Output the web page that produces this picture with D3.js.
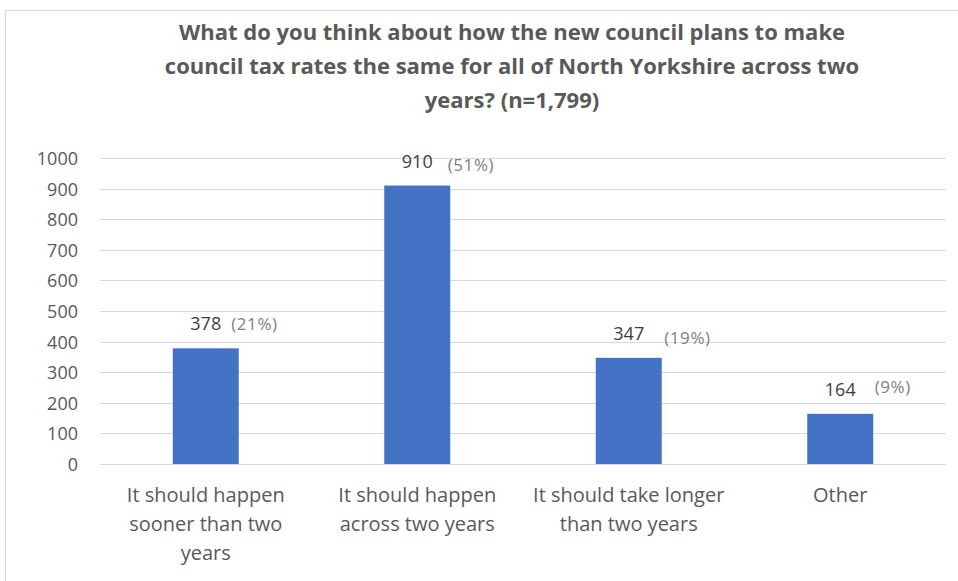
<!DOCTYPE html>
<html>
<head>
<meta charset="utf-8">
<script src="https://cdn.jsdelivr.net/npm/d3@7"></script>
<style>
  html, body { margin: 0; padding: 0; background: #ffffff; }
  svg { display: block; }
  text { font-family: "Open Sans", "Noto Sans", sans-serif; }
</style>
</head>
<body>
<svg id="chart" width="958" height="581"></svg>
<script>
// Survey responses (n = 1,799)
const titleLines = [
  "What do you think about how the new council plans to make",
  "council tax rates the same for all of North Yorkshire across two",
  "years? (n=1,799)"
];
const categories = [
  "It should happen\nsooner than two\nyears",
  "It should happen\nacross two years",
  "It should take longer\nthan two years",
  "Other"
];
const counts = [378, 910, 347, 164];
const percentLabels = ["(21%)", "(51%)", "(19%)", "(9%)"];
const yTicks = [0, 100, 200, 300, 400, 500, 600, 700, 800, 900, 1000];

const W = 958, H = 581;
const svg = d3.select("#chart");

// outer chart frame
svg.append("rect")
  .attr("x", 5.5).attr("y", 10.5)
  .attr("width", W + 10).attr("height", H + 10)
  .attr("fill", "#ffffff")
  .attr("stroke", "#d9d9d9").attr("stroke-width", 1);

const plot = { left: 100, right: 946, top: 158, bottom: 464 };

const x = d3.scaleBand()
  .domain(categories)
  .range([plot.left, plot.right])
  .paddingInner(0.688)
  .paddingOuter(0.344);

const y = d3.scaleLinear()
  .domain([0, 1000])
  .range([plot.bottom, plot.top]);

// gridlines
svg.append("g")
  .selectAll("line")
  .data(yTicks)
  .join("line")
  .attr("x1", plot.left).attr("x2", plot.right)
  .attr("y1", d => Math.round(y(d)) + 0.5)
  .attr("y2", d => Math.round(y(d)) + 0.5)
  .attr("stroke", "#d9d9d9").attr("stroke-width", 1);

// y axis labels
const yAxis = d3.axisLeft(y).tickValues(yTicks).tickFormat(d3.format("d"))
  .tickSize(0).tickPadding(0);
const yG = svg.append("g")
  .attr("transform", `translate(78,0)`)
  .call(yAxis);
yG.select(".domain").remove();
yG.selectAll("text")
  .attr("fill", "#595959")
  .style("font-size", "18px")
  .attr("dy", "0.36em");

// bars
svg.append("g")
  .selectAll("rect")
  .data(counts)
  .join("rect")
  .attr("x", (d, i) => x(categories[i]))
  .attr("width", x.bandwidth())
  .attr("y", d => y(d))
  .attr("height", d => y(0) - y(d))
  .attr("fill", "#4472c4");

// value labels: count centred over each bar, share to its right
const pctNudge = [{ gap: 10, dy: 0 }, { gap: 15, dy: 3 }, { gap: 20, dy: 4 }, { gap: 19, dy: -3 }];
const lbl = svg.append("g");
counts.forEach((v, i) => {
  const cx = x(categories[i]) + x.bandwidth() / 2;
  const by = y(v) - 18;
  const t = lbl.append("text")
    .attr("x", cx).attr("y", by)
    .attr("text-anchor", "middle")
    .attr("fill", "#404040")
    .style("font-size", "18px")
    .text(v);
  const w = t.node().getComputedTextLength();
  lbl.append("text")
    .attr("x", cx + w / 2 + pctNudge[i].gap)
    .attr("y", by + pctNudge[i].dy)
    .attr("fill", "#808080")
    .style("font-size", "17px")
    .style("letter-spacing", "0.6px")
    .text(percentLabels[i]);
});

// category labels
const xl = svg.append("g");
categories.forEach(c => {
  const cx = x(c) + x.bandwidth() / 2;
  const t = xl.append("text")
    .attr("text-anchor", "middle")
    .attr("fill", "#595959")
    .style("font-size", "20px");
  c.split("\n").forEach((line, k) => {
    t.append("tspan")
      .attr("x", cx)
      .attr("y", 502 + k * 29)
      .text(line);
  });
});

// title
const tg = svg.append("g");
titleLines.forEach((line, k) => {
  tg.append("text")
    .attr("x", 512)
    .attr("y", 40 + k * 34)
    .attr("text-anchor", "middle")
    .attr("fill", "#595959")
    .style("font-size", "22px")
    .style("font-weight", "bold")
    .text(line);
});
</script>
</body>
</html>
